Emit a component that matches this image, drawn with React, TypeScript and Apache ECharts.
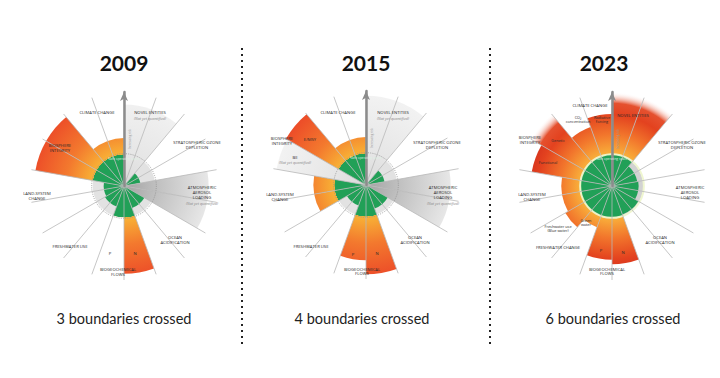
import React, { useEffect, useRef } from "react";
import * as echarts from "echarts";

// 18 sub-sectors of 20° each, clockwise from the top
const SECTORS = [
  "Novel entities I", "Novel entities II",
  "Stratospheric ozone depletion I", "Stratospheric ozone depletion II",
  "Atmospheric aerosol loading I", "Atmospheric aerosol loading II",
  "Ocean acidification I", "Ocean acidification II",
  "Nitrogen (N)", "Phosphorus (P)",
  "Freshwater I", "Freshwater II",
  "Land-system change I", "Land-system change II",
  "Biosphere integrity I", "Biosphere integrity II",
  "Climate change I", "Climate change II",
];

const YEARS = ["2009", "2015", "2023"];
const SUMMARIES = ["3 boundaries crossed", "4 boundaries crossed", "6 boundaries crossed"];

// control variables relative to the planetary boundary (1 = boundary, 3 = outer edge)
const BOUNDARY = [1, 1, 1, 1, 1, 1, 1, 1, 1, 1, 1, 1, 1, 1, 1, 1, 1, 1];
const VALUES_2009 = [2.6, 2.6, 0.53, 0.53, 2.7, 2.7, 0.75, 0.75, 2.8, 1.0, 0.7, 0.7, 0.65, 0.65, 2.87, 2.87, 1.53, 1.53];
const KINDS_2009 = ["light", "light", "q", "q", "grey", "grey", "q", "q", "q", "q", "q", "q", "q", "q", "q", "q", "q", "q"];
const VALUES_2015 = [2.85, 2.85, 0.6, 0.6, 2.7, 2.7, 0.8, 0.8, 2.85, 2.4, 0.7, 0.7, 1.68, 1.68, 2.9, 2.95, 1.53, 1.53];
const KINDS_2015 = ["light", "light", "q", "q", "grey", "grey", "q", "q", "q", "q", "q", "q", "q", "q", "light", "q", "q", "q"];
const VALUES_2023 = [3.0, 3.0, 0.82, 0.82, 0.85, 0.85, 0.97, 0.97, 2.5, 2.35, 1.4, 1.72, 1.62, 1.62, 2.6, 3.0, 2.0, 2.3];
const KINDS_2023 = ["fuzzy", "fuzzy", "q", "q", "q", "q", "q", "q", "q", "q", "q", "q", "q", "q", "q", "fuzzy", "q", "q"];

type Lbl = [string, number, number, string?];

const LABELS_2009: Lbl[] = [
  ["CLIMATE CHANGE", -27, -74], ["NOVEL ENTITIES", 26, -74], ["(Not yet quantified)", 26, -68, "note"],
  ["STRATOSPHERIC OZONE", 73, -44], ["DEPLETION", 73, -39],
  ["BIOSPHERE", -64, -41], ["INTEGRITY", -64, -36],
  ["ATMOSPHERIC", 78, 1], ["AEROSOL", 78, 6], ["LOADING", 78, 11], ["(Not yet quantified)", 78, 17, "note"],
  ["LAND-SYSTEM", -87, 7], ["CHANGE", -87, 12],
  ["OCEAN", 51, 51], ["ACIDIFICATION", 51, 56],
  ["FRESHWATER USE", -54, 60],
  ["P", -14, 67], ["N", 11, 67],
  ["BIOGEOCHEMICAL", -6, 83], ["FLOWS", -6, 88],
];
const LABELS_2015: Lbl[] = [
  ["CLIMATE CHANGE", -28, -73], ["NOVEL ENTITIES", 27, -73], ["(Not yet quantified)", 27, -67, "note"],
  ["STRATOSPHERIC OZONE", 71, -43], ["DEPLETION", 71, -38],
  ["BIOSPHERE", -84, -47], ["INTEGRITY", -84, -42], ["E/MSY", -56, -46],
  ["BII", -71, -28], ["(Not yet quantified)", -71, -23, "note"],
  ["LAND-SYSTEM", -86, 9], ["CHANGE", -86, 14],
  ["ATMOSPHERIC", 77, 2], ["AEROSOL", 77, 7], ["LOADING", 77, 12], ["(Not yet quantified)", 77, 18, "note"],
  ["OCEAN", 49, 52], ["ACIDIFICATION", 49, 57],
  ["FRESHWATER USE", -55, 61],
  ["P", -13, 69], ["N", 11, 68],
  ["BIOGEOCHEMICAL", -4, 84], ["FLOWS", -4, 88],
];
const LABELS_2023: Lbl[] = [
  ["CLIMATE CHANGE", -22, -81],
  ["CO₂", -34, -69, "sub"], ["concentration", -34, -65, "sub"],
  ["Radiative", -10, -69, "sub"], ["forcing", -10, -65, "sub"],
  ["NOVEL ENTITIES", 21, -71],
  ["STRATOSPHERIC OZONE", 70, -44], ["DEPLETION", 70, -39],
  ["BIOSPHERE", -82, -49], ["INTEGRITY", -82, -44],
  ["Genetic", -54, -46, "sub"], ["Functional", -64, -24, "sub"],
  ["LAND-SYSTEM", -80, 8], ["CHANGE", -80, 13],
  ["ATMOSPHERIC", 78, 1], ["AEROSOL", 78, 6], ["LOADING", 78, 11],
  ["Freshwater use", -54, 40, "sub"], ["(Blue water)", -54, 44, "sub"],
  ["Green", -26, 34, "sub"], ["water", -26, 38, "sub"],
  ["FRESHWATER CHANGE", -54, 61],
  ["OCEAN", 48, 51], ["ACIDIFICATION", 48, 56],
  ["P", -11, 64], ["N", 11, 66],
  ["BIOGEOCHEMICAL", -5, 83], ["FLOWS", -5, 87],
];

const R = 94;
const GREEN = "#21a057";

const PANELS = [
  { values: VALUES_2009, kinds: KINDS_2009, labels: LABELS_2009, center: [124, 186], titleX: 124, summaryX: 124, modern: false },
  { values: VALUES_2015, kinds: KINDS_2015, labels: LABELS_2015, center: [366, 185], titleX: 366, summaryX: 362, modern: false },
  { values: VALUES_2023, kinds: KINDS_2023, labels: LABELS_2023, center: [612, 186], titleX: 604, summaryX: 613, modern: true },
];

function radial(cx: number, cy: number, stops: [number, string][]) {
  return {
    type: "radial", x: cx, y: cy, r: R, global: true,
    colorStops: stops.map(([offset, color]) => ({ offset, color })),
  };
}

function colorFor(modern: boolean, kind: string, cx: number, cy: number) {
  if (kind === "light") return radial(cx, cy, [[0, "#d9d9d9"], [0.35, "#e6e6e6"], [1, "#f3f3f3"]]);
  if (kind === "grey") return radial(cx, cy, [[0, "#a2a2a2"], [0.35, "#c0c0c0"], [1, "#eeeeee"]]);
  if (kind === "fuzzy")
    return radial(cx, cy, [[0, GREEN], [0.333, GREEN], [0.336, "#f9b13b"], [0.55, "#f2762c"], [0.76, "#e3421f"], [0.88, "#e5512f"], [1, "rgba(255,255,255,0)"]]);
  if (modern)
    return radial(cx, cy, [[0, GREEN], [0.333, GREEN], [0.336, "#f9b13b"], [0.55, "#f2762c"], [0.78, "#e3421f"], [1, "#cc281b"]]);
  return radial(cx, cy, [[0, GREEN], [0.333, GREEN], [0.336, "#f8b236"], [0.62, "#f3792e"], [1, "#ec4a28"]]);
}

function buildOption() {
  const graphics: any[] = [];
  PANELS.forEach((p, i) => {
    const [cx, cy] = p.center;
    graphics.push({
      type: "text", x: p.titleX, y: 62, z: 50,
      style: { text: YEARS[i], fill: "#111", fontSize: 21, fontWeight: "bold", fontFamily: "Lato", align: "center", verticalAlign: "middle" },
    });
    graphics.push({
      type: "text", x: p.summaryX, y: 318, z: 50,
      style: { text: SUMMARIES[i], fill: "#222", fontSize: 14.5, fontFamily: "Lato", align: "center", verticalAlign: "middle" },
    });
    if (p.modern) {
      graphics.push({ type: "circle", z: 3, shape: { cx, cy, r: R / 3 + 0.5 }, style: { fill: "none", stroke: "rgba(238,246,205,0.95)", lineWidth: 2 } });
    } else {
      graphics.push({ type: "circle", z: 3, shape: { cx, cy, r: R / 3 + 1 }, style: { fill: "none", stroke: "#8f8f8f", lineWidth: 0.8, lineDash: [1, 1.2] } });
    }
    graphics.push({
      type: "text", x: cx, y: cy - 27, z: 30,
      style: { text: "Safe operating space", fill: "#dff2e4", fontSize: 3.2, fontFamily: "Open Sans", align: "center", verticalAlign: "middle" },
    });
    p.labels.forEach(([t, dx, dy, kind]) => {
      const note = kind === "note";
      const sub = kind === "sub";
      graphics.push({
        type: "text", x: cx + dx, y: cy + dy, z: 40,
        style: {
          text: t,
          fill: note ? "#8a8a8a" : "#2a2a2a",
          fontSize: note || sub ? 3.8 : 4.2,
          fontStyle: note ? "italic" : "normal",
          fontWeight: "normal",
          fontFamily: "Open Sans",
          align: "center", verticalAlign: "middle",
        },
      });
    });
  });
  [242, 490].forEach((x) => {
    graphics.push({ type: "line", z: 50, shape: { x1: x, y1: 48, x2: x, y2: 346 }, style: { stroke: "#222", lineWidth: 2, lineDash: [2, 4] } });
  });

  const series: any[] = [];
  PANELS.forEach((p, i) => {
    const [cx, cy] = p.center;
    series.push({
      type: "bar", coordinateSystem: "polar", polarIndex: i, silent: true, z: 1,
      barGap: "-100%", barCategoryGap: "0%",
      itemStyle: { color: p.modern ? "#d2d2d2" : "#e2e2e2" },
      data: BOUNDARY,
    });
    series.push({
      type: "bar", coordinateSystem: "polar", polarIndex: i, silent: true, z: 2,
      barGap: "-100%", barCategoryGap: "0%",
      data: p.values.map((v, k) => ({ value: v, itemStyle: { color: colorFor(p.modern, p.kinds[k], cx, cy) } })),
    });
  });

  return {
    animation: false,
    backgroundColor: "#ffffff",
    polar: PANELS.map((p) => ({ center: p.center, radius: R })),
    angleAxis: PANELS.map((_, i) => ({
      polarIndex: i, type: "category", data: SECTORS, startAngle: 90, clockwise: true, boundaryGap: true, z: 10,
      axisLine: { show: false }, axisTick: { show: false }, axisLabel: { show: false },
      splitLine: { show: true, interval: 1, lineStyle: { color: "#b8b8b8", width: 0.8 } },
    })),
    radiusAxis: PANELS.map((_, i) => ({
      polarIndex: i, type: "value", min: 0, max: 3, interval: 1, z: 12,
      name: "Increasing risk", nameLocation: "middle", nameGap: 4, nameRotate: 90,
      nameTextStyle: { fontSize: 3, color: "#9a9a9a", fontFamily: "Open Sans" },
      axisLine: { show: true, symbol: ["none", "arrow"], symbolSize: [6, 9], lineStyle: { color: "#8c8c8c", width: 2.5 } },
      axisTick: { show: false }, axisLabel: { show: false }, splitLine: { show: false },
    })),
    series,
    graphic: { elements: graphics },
  };
}

export default function App() {
  const ref = useRef<HTMLDivElement>(null);
  useEffect(() => {
    document.body.style.margin = "0";
    const chart = echarts.init(ref.current!, null, { renderer: "svg" });
    chart.setOption(buildOption() as any);
    return () => chart.dispose();
  }, []);
  return <div ref={ref} style={{ width: 720, height: 378, background: "#fff" }} />;
}
